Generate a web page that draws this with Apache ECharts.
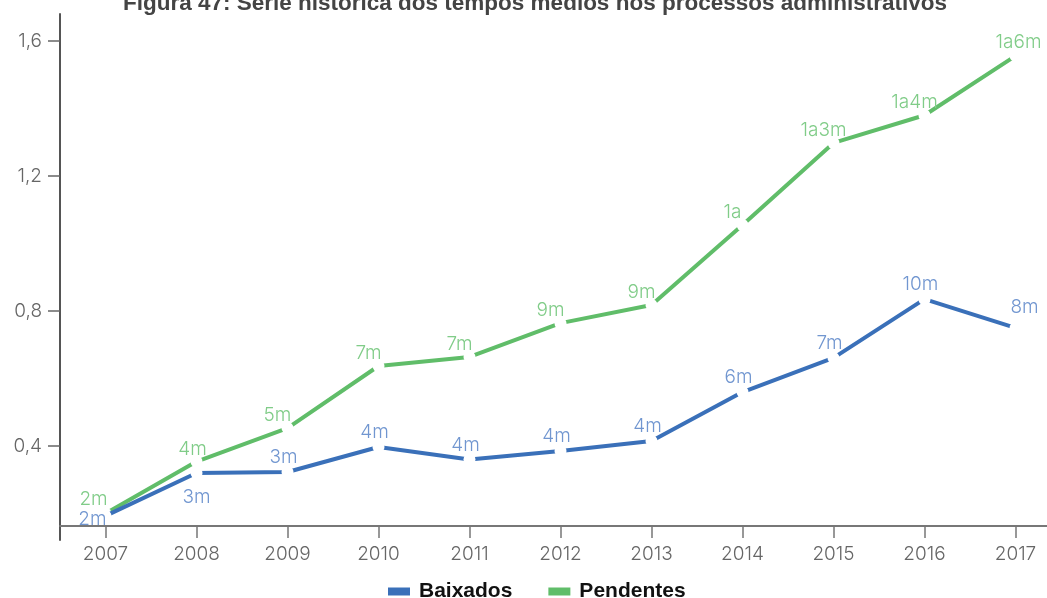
<!DOCTYPE html>
<html><head><meta charset="utf-8">
<script src="https://cdn.jsdelivr.net/npm/echarts@6/dist/echarts.min.js"></script>
<style>html,body{margin:0;padding:0;background:#fff}#c{width:1047px;height:598px}</style>
</head><body><div id="c"></div>
<script>
const titleText = 'Figura 47: Série histórica dos tempos médios nos processos administrativos';
const years = ['2007','2008','2009','2010','2011','2012','2013','2014','2015','2016','2017'];
const baixados = [0.193,0.320,0.323,0.397,0.360,0.385,0.415,0.560,0.661,0.835,0.750];
const baixadosLabels = ['2m','3m','3m','4m','4m','4m','4m','6m','7m','10m','8m'];
const pendentes = [0.200,0.354,0.453,0.637,0.664,0.764,0.818,1.055,1.298,1.380,1.556];
const pendentesLabels = ['2m','4m','5m','7m','7m','9m','9m','1a','1a3m','1a4m','1a6m'];
const yTicks = [0.4,0.8,1.2,1.6];

const BLUE='#3a70b9', BLUE_T='#7196d0', GREEN='#60bd69', GREEN_T='#80cc88';
const FONT='Inter, Roboto, sans-serif';
const BOLD='"Liberation Sans", Arial, sans-serif';

function blueLabel(i){
  if(i===0) return {position:'left',offset:[12,3]};
  if(i===1) return {position:'bottom',distance:9};
  if(i===10) return {position:'top',offset:[9,0]};
  return {position:'top',offset:[-4,6]};
}
function greenLabel(i){
  if(i===0) return {position:'top',offset:[-12,6]};
  if(i===1) return {position:'top',offset:[-4,8]};
  if(i===10) return {position:'top',offset:[3,7]};
  return {position:'top',offset:[-10,8]};
}

const chart = echarts.init(document.getElementById('c'));
chart.setOption({
  animation:false,
  title:{text:titleText,left:118,top:-13,textStyle:{fontFamily:BOLD,fontSize:22.5,fontWeight:'bold',color:'#444'}},
  grid:{left:60,width:1001,top:14,bottom:58,containLabel:false,outerBoundsMode:'none'},
  legend:{bottom:-9,left:383,itemWidth:22,itemHeight:8,itemGap:36,icon:'rect',
    textStyle:{fontFamily:BOLD,fontSize:21,fontWeight:'bold',color:'#111',padding:[0,0,0,4]},
    data:[{name:'Baixados',itemStyle:{color:BLUE}},{name:'Pendentes',itemStyle:{color:GREEN}}]},
  xAxis:{type:'category',data:years,boundaryGap:true,offset:-14,
    axisLine:{lineStyle:{color:'#777',width:2}},
    axisTick:{show:true,alignWithLabel:true,length:12,lineStyle:{color:'#777',width:1.5}},
    axisLabel:{fontFamily:FONT,fontSize:19,fontWeight:300,color:'#666',margin:19}},
  yAxis:{type:'value',min:0.1215,max:1.68,
    axisLine:{show:true,lineStyle:{color:'#555',width:2}},
    axisTick:{show:true,length:12,customValues:yTicks,lineStyle:{color:'#666',width:1.5}},
    axisLabel:{customValues:yTicks,fontFamily:FONT,fontSize:19,fontWeight:300,color:'#666',margin:18,
      formatter:v=>String(Math.round(v*10)/10).replace('.',',')},
    splitLine:{show:false}},
  series:[
    {name:'Baixados',type:'line',color:BLUE,
     data:baixados.map((v,i)=>({value:v,label:Object.assign({show:true,formatter:baixadosLabels[i]},blueLabel(i))})),
     lineStyle:{width:4,color:BLUE},symbol:'circle',symbolSize:12,showSymbol:true,
     itemStyle:{color:'#fff',borderWidth:0},
     label:{fontFamily:FONT,fontSize:19,fontWeight:300,color:BLUE_T},z:3},
    {name:'Pendentes',type:'line',color:GREEN,
     data:pendentes.map((v,i)=>({value:v,label:Object.assign({show:true,formatter:pendentesLabels[i]},greenLabel(i))})),
     lineStyle:{width:4,color:GREEN},symbol:'circle',symbolSize:12,showSymbol:true,
     itemStyle:{color:'#fff',borderWidth:0},
     label:{fontFamily:FONT,fontSize:19,fontWeight:300,color:GREEN_T},z:2}
  ]
});
</script></body></html>
